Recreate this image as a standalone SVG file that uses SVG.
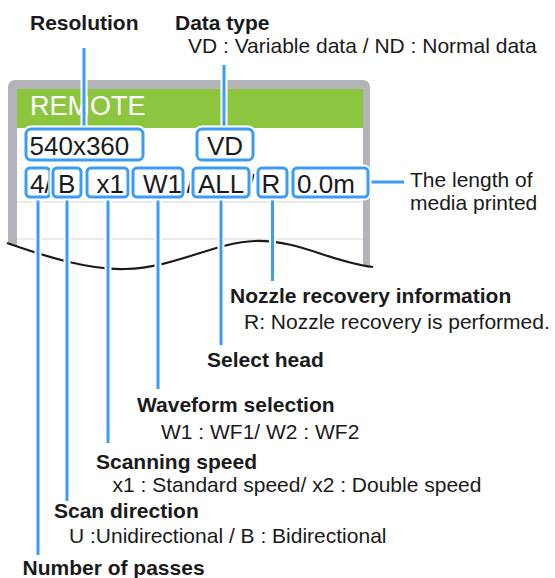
<svg xmlns="http://www.w3.org/2000/svg" width="555" height="578" viewBox="0 0 555 578">
<style>
.lbl{font-family:"Liberation Sans",Arial,sans-serif;font-size:21px;fill:#1a1a1a}
.b{font-weight:bold}
.bx{font-family:"Liberation Sans",Arial,sans-serif;font-size:26px;fill:#1a1a1a}
.halo{fill:none;stroke:#fff;stroke-width:7}
.lead{fill:none;stroke:#3a9cf7;stroke-width:3}
.box{fill:#fff;stroke:#3a9cf7;stroke-width:3}
.boxh{fill:#fff;stroke:#fff;stroke-width:7}
.sep{stroke:#d6d6d6;stroke-width:1.2}
</style>
<defs>
<clipPath id="cut"><path d="M0,0 L380,0 L380,268 L373,267 C330,262 300,240 255,241 C215,242 175,268 125,269 C90,270 50,258 7,243 L0,243 Z"/></clipPath>
<clipPath id="c4"><rect x="20" y="160" width="28" height="40"/></clipPath>
</defs>
<g id="panel" clip-path="url(#cut)">
<rect x="8" y="80" width="362" height="220" rx="7" fill="#b3b4b7"/>
<rect x="17" y="89" width="346" height="220" fill="#fff"/>
<rect x="17" y="89" width="346" height="39" fill="#8cc63f"/>
<line class="sep" x1="17" y1="202" x2="363" y2="202"/>
<line class="sep" x1="17" y1="239" x2="363" y2="239"/>
<text x="30" y="115" font-family="Liberation Sans, Arial, sans-serif" font-size="27" fill="#fff">REMOTE</text>
</g>
<path id="cutline" d="M7,243 C50,258 90,270 125,269 C175,268 215,242 255,241 C300,240 330,262 373,267" fill="none" stroke="#1a1a1a" stroke-width="2.2"/>
<g id="slashes">
<text class="bx" x="186.5" y="193">/</text>
<text class="bx" x="247.5" y="193">/</text>
</g>
<g id="connectors">
<path class="halo" d="M84,48V129 M224,65V129 M38,197V555 M67,197V501 M108,197V443 M158,197V389 M221,197V345 M272.5,197V281 M368,182H404"/>
<path class="lead" d="M84,48V129 M224,65V129 M38,197V555 M67,197V501 M108,197V443 M158,197V389 M221,197V345 M272.5,197V281 M368,182H404"/>
</g>
<g id="box-resolution"><rect class="boxh" x="26" y="129" width="117" height="31" rx="5"/><rect class="box" x="26" y="129" width="117" height="31" rx="5"/><text class="bx" x="29.5" y="155">540x360</text></g>
<g id="box-datatype"><rect class="boxh" x="197" y="129" width="56" height="31" rx="5"/><rect class="box" x="197" y="129" width="56" height="31" rx="5"/><text class="bx" x="207" y="155">VD</text></g>
<g id="box-passes"><rect class="boxh" x="26" y="168" width="24" height="29" rx="4"/><rect class="box" x="26" y="168" width="24" height="29" rx="4"/><text class="bx" x="30" y="193" clip-path="url(#c4)">4/</text></g>
<g id="box-scandir"><rect class="boxh" x="53" y="168" width="28" height="29" rx="4"/><rect class="box" x="53" y="168" width="28" height="29" rx="4"/><text class="bx" x="58" y="193">B</text></g>
<g id="box-speed"><rect class="boxh" x="87" y="168" width="41" height="29" rx="4"/><rect class="box" x="87" y="168" width="41" height="29" rx="4"/><text class="bx" x="96.5" y="193">x1</text></g>
<g id="box-waveform"><rect class="boxh" x="133" y="168" width="50" height="29" rx="4"/><rect class="box" x="133" y="168" width="50" height="29" rx="4"/><text class="bx" x="143" y="193">W1</text></g>
<g id="box-head"><rect class="boxh" x="193" y="168" width="56" height="29" rx="4"/><rect class="box" x="193" y="168" width="56" height="29" rx="4"/><text class="bx" x="198" y="193">ALL</text></g>
<g id="box-nozzle"><rect class="boxh" x="258" y="168" width="29" height="29" rx="4"/><rect class="box" x="258" y="168" width="29" height="29" rx="4"/><text class="bx" x="261.5" y="193">R</text></g>
<g id="box-length"><rect class="boxh" x="293" y="168" width="75" height="29" rx="4"/><rect class="box" x="293" y="168" width="75" height="29" rx="4"/><text class="bx" x="297" y="193" font-size="25">0.0m</text></g>
<g id="labels">
<text class="lbl b" x="30" y="29.5">Resolution</text>
<text class="lbl b" x="175" y="29.5">Data type</text>
<text class="lbl" x="188" y="52.5">VD : Variable data / ND : Normal data</text>
<text class="lbl" x="410" y="186.5">The length of</text>
<text class="lbl" x="410" y="210">media printed</text>
<text class="lbl b" x="230" y="303">Nozzle recovery information</text>
<text class="lbl" x="244" y="329">R: Nozzle recovery is performed.</text>
<text class="lbl b" x="207" y="367">Select head</text>
<text class="lbl b" x="137" y="412">Waveform selection</text>
<text class="lbl" x="161" y="438.5">W1 : WF1/ W2 : WF2</text>
<text class="lbl b" x="96" y="468.5">Scanning speed</text>
<text class="lbl" x="112.5" y="492">x1 : Standard speed/ x2 : Double speed</text>
<text class="lbl b" x="54" y="518">Scan direction</text>
<text class="lbl" x="69" y="543">U :Unidirectional / B : Bidirectional</text>
<text class="lbl b" x="22.5" y="575">Number of passes</text>
</g>
</svg>
